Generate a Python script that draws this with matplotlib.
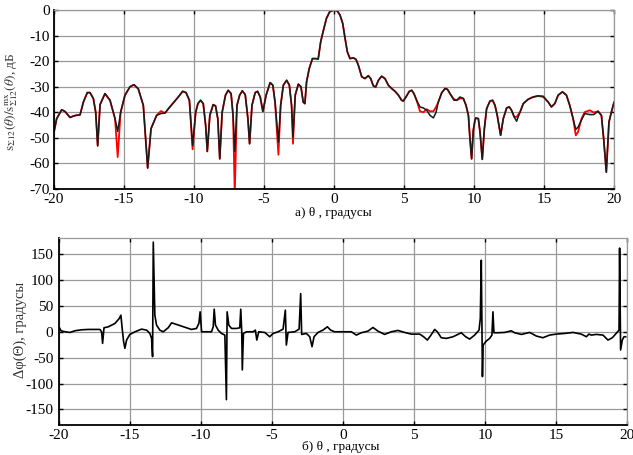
import matplotlib
matplotlib.use("Agg")
import matplotlib.pyplot as plt
import numpy as np

plt.rcParams['font.family'] = ['Liberation Serif', 'DejaVu Serif']
plt.rcParams['mathtext.fontset'] = 'stix'
plt.rcParams['axes.unicode_minus'] = False

# --- диаграмма направленности, дБ ---
theta_a = [-20.00, -19.81, -19.45, -19.21, -18.86, -18.62, -18.43, -18.14, -17.90, -17.62,
           -17.43, -17.19, -17.02, -16.88, -16.71, -16.36, -16.00, -15.64, -15.45, -15.24,
           -14.93, -14.57, -14.29, -13.98, -13.62, -13.31, -13.07, -12.67, -12.36, -12.07,
           -11.83, -11.48, -11.12, -10.81, -10.57, -10.33, -10.10, -9.88, -9.72, -9.53,
           -9.34, -9.17, -9.05, -8.87, -8.63, -8.46, -8.30, -8.16, -7.99, -7.75,
           -7.56, -7.35, -7.21, -7.09, -6.93, -6.74, -6.55, -6.34, -6.15, -6.03,
           -5.86, -5.63, -5.46, -5.27, -5.08, -4.85, -4.56, -4.37, -4.21, -3.97,
           -3.81, -3.62, -3.38, -3.19, -3.03, -2.93, -2.77, -2.55, -2.36, -2.20,
           -2.08, -1.96, -1.77, -1.54, -1.30, -1.13, -0.95, -0.78, -0.54, -0.31,
           0.00, 0.24, 0.43, 0.62, 0.79, 0.95, 1.14, 1.38, 1.57, 1.74,
           1.98, 2.21, 2.45, 2.62, 2.81, 2.98, 3.17, 3.40, 3.64, 3.88,
           4.12, 4.36, 4.60, 4.83, 4.95, 5.14, 5.38, 5.55, 5.71, 5.90,
           6.14, 6.38, 6.62, 6.86, 7.10, 7.29, 7.45, 7.69, 7.93, 8.10,
           8.33, 8.57, 8.76, 9.00, 9.24, 9.43, 9.60, 9.71, 9.83, 9.95,
           10.07, 10.14, 10.31, 10.43, 10.59, 10.74, 10.90, 11.14, 11.33, 11.50,
           11.66, 11.90, 12.09, 12.33, 12.52, 12.68, 12.87, 13.04, 13.28, 13.52,
           13.87, 14.23, 14.58, 14.94, 15.30, 15.53, 15.77, 16.01, 16.32, 16.60,
           16.84, 17.08, 17.27, 17.43, 17.67, 17.91, 18.27, 18.55, 18.86, 19.10,
           19.26, 19.45, 19.64, 19.81, 20.00]

s_black = [-47.7, -42.5, -39.0, -39.7, -42.0, -41.5, -41.2, -41.0, -36.0, -32.3,
           -32.3, -34.6, -40.0, -53.2, -37.0, -32.7, -35.3, -42.5, -47.5, -40.0,
           -33.3, -30.0, -29.2, -30.8, -37.3, -61.8, -46.4, -41.2, -40.5, -40.3,
           -38.6, -36.3, -34.0, -31.8, -32.3, -35.3, -53.0, -40.0, -36.6, -35.3,
           -36.6, -45.0, -55.3, -41.2, -37.0, -37.5, -42.5, -58.2, -40.0, -33.3,
           -31.4, -32.7, -41.2, -55.3, -37.3, -33.3, -31.6, -33.1, -42.5, -52.3,
           -37.3, -32.3, -31.8, -34.0, -39.7, -33.3, -28.4, -29.4, -36.0, -51.6,
           -37.3, -29.4, -27.5, -29.4, -37.3, -49.7, -33.3, -29.0, -30.0, -36.0,
           -36.6, -28.1, -22.9, -19.0, -19.0, -19.2, -12.4, -8.5, -3.3, -0.7,
           0.0, -0.4, -2.0, -5.2, -11.1, -16.3, -19.0, -18.7, -19.3, -21.6,
           -26.1, -26.8, -25.7, -26.8, -29.7, -30.1, -27.5, -25.9, -26.8, -29.4,
           -30.7, -31.8, -33.3, -35.3, -35.6, -34.0, -31.8, -31.4, -32.7, -35.3,
           -37.9, -38.3, -39.2, -41.2, -42.2, -40.0, -36.0, -32.4, -30.7, -31.0,
           -33.1, -35.3, -35.3, -34.0, -34.6, -37.3, -41.2, -50.3, -58.2, -47.0,
           -43.1, -42.2, -42.5, -47.7, -58.4, -46.4, -38.6, -35.6, -35.3, -37.3,
           -41.2, -49.0, -42.5, -38.3, -37.9, -39.2, -41.8, -43.5, -40.0, -36.6,
           -34.9, -34.0, -33.6, -33.7, -36.0, -37.9, -36.6, -33.3, -32.0, -33.3,
           -37.3, -42.5, -46.7, -45.8, -43.1, -40.5, -40.9, -40.9, -39.6, -41.2,
           -50.3, -63.4, -43.8, -40.0, -36.1]

s_red = [-47.7, -42.5, -39.0, -39.7, -42.0, -41.5, -41.2, -41.0, -36.0, -32.3,
         -32.3, -34.6, -40.0, -53.0, -37.0, -32.7, -35.3, -42.5, -57.5, -40.0,
         -33.3, -30.0, -29.2, -30.8, -37.3, -61.8, -46.4, -41.2, -39.5, -40.3,
         -38.6, -36.3, -34.0, -31.8, -32.3, -35.3, -54.5, -40.0, -36.6, -35.3,
         -36.6, -45.0, -55.3, -41.2, -37.0, -37.5, -42.5, -58.2, -40.0, -33.3,
         -31.4, -32.7, -41.2, -72.0, -37.3, -33.3, -31.6, -33.1, -42.5, -52.3,
         -37.3, -32.3, -31.8, -34.0, -39.7, -33.3, -28.4, -29.4, -36.0, -56.6,
         -37.3, -29.4, -27.5, -29.4, -37.3, -52.3, -33.3, -29.0, -30.0, -36.0,
         -36.6, -28.1, -22.9, -19.0, -19.0, -19.2, -12.4, -8.5, -3.3, -0.7,
         0.0, -0.4, -2.0, -5.2, -11.1, -16.3, -19.0, -18.7, -19.3, -21.6,
         -26.1, -26.8, -25.7, -26.8, -29.7, -30.1, -27.5, -25.9, -26.8, -29.4,
         -30.7, -31.8, -33.3, -35.3, -35.6, -34.0, -31.8, -31.4, -32.7, -35.3,
         -39.6, -40.0, -38.8, -39.6, -39.6, -37.9, -36.0, -32.4, -30.7, -31.0,
         -33.1, -34.9, -35.3, -34.6, -34.6, -37.3, -41.2, -50.3, -58.2, -47.0,
         -43.1, -42.2, -42.5, -47.7, -58.4, -46.4, -38.6, -35.6, -35.3, -37.3,
         -41.2, -49.0, -42.5, -38.3, -37.9, -39.2, -41.8, -41.8, -40.0, -36.6,
         -34.9, -34.0, -33.6, -34.0, -36.0, -37.9, -36.6, -33.3, -32.0, -33.3,
         -37.3, -42.5, -49.0, -47.7, -42.6, -39.9, -39.2, -40.1, -39.6, -41.2,
         -50.3, -63.4, -43.8, -40.0, -36.1]

# --- разность фаз, градусы ---
theta_b = [-20.00, -19.86, -19.58, -19.23, -18.87, -18.41, -17.94, -17.47, -17.12, -17.00,
           -16.93, -16.83, -16.53, -16.06, -15.76, -15.64, -15.55, -15.45, -15.36, -15.24,
           -15.01, -14.65, -14.19, -13.83, -13.60, -13.48, -13.41, -13.36, -13.25, -13.13,
           -12.90, -12.66, -12.31, -12.07, -11.72, -11.25, -10.67, -10.32, -10.15, -10.06,
           -9.96, -9.26, -9.14, -9.07, -8.98, -8.79, -8.56, -8.32, -8.21, -8.16,
           -8.04, -7.85, -7.50, -7.27, -7.20, -7.13, -7.09, -7.01, -6.80, -6.33,
           -6.17, -6.07, -5.93, -5.51, -5.16, -4.92, -4.57, -4.22, -4.06, -3.99,
           -3.87, -3.40, -3.09, -2.98, -2.91, -2.58, -2.34, -2.18, -2.04, -1.76,
           -1.41, -1.10, -0.87, -0.59, 0.00, 0.59, 0.94, 1.29, 1.76, 2.11,
           2.46, 2.93, 3.40, 3.87, 4.34, 4.81, 5.40, 5.68, 5.94, 6.15,
           6.46, 6.64, 6.92, 7.28, 7.75, 8.33, 8.64, 8.92, 9.27, 9.58,
           9.67, 9.74, 9.82, 9.87, 10.09, 10.33, 10.49, 10.56, 10.63, 10.92,
           11.38, 11.85, 12.09, 12.56, 13.15, 13.62, 14.08, 14.55, 15.02, 15.61,
           16.20, 16.78, 17.14, 17.32, 17.49, 17.84, 18.31, 18.66, 18.97, 19.30,
           19.44, 19.48, 19.55, 19.67, 19.79, 19.91]

dphi = [9.6, 2.0, 0.0, -1.3, 2.0, 3.8, 4.5, 4.5, 4.5, 0.0,
        -22.4, 7.7, 9.6, 16.0, 25.6, 32.0, 6.4, -19.2, -32.0, -16.0,
        -5.1, 0.0, 5.1, 3.2, -3.2, -12.8, -48.0, 173.0, 32.0, 12.8,
        3.2, 0.0, 7.7, 17.3, 14.1, 9.6, 4.5, 6.4, 16.0, 38.5,
        0.0, 0.0, 9.6, 43.6, 12.8, 3.2, -3.2, -6.4, -131.0, 38.5,
        12.8, 6.4, 6.4, 7.7, 43.6, 0.0, -73.7, -3.2, 0.0, 0.0,
        3.2, -16.0, 0.0, -1.3, -9.6, -3.2, 0.0, 5.1, 41.7, -25.6,
        -1.3, 0.0, 5.1, 73.7, -5.1, -3.2, -9.6, -28.8, -9.6, -1.3,
        3.2, 9.6, 3.2, 0.0, 0.0, 0.0, -6.4, -1.9, 1.3, 8.3,
        1.3, -5.1, 0.0, 2.6, -1.3, -4.5, -4.5, -9.6, -16.0, -8.3,
        4.5, 0.0, -11.5, -12.8, -9.6, -1.9, -9.6, -14.1, -6.4, 3.2,
        25.6, 138.0, -86.5, -25.6, -18.0, -12.8, -6.4, 38.5, -1.9, -1.9,
        -1.3, 1.9, -1.9, -5.1, -1.3, -8.3, -11.5, -6.4, -4.5, -3.2,
        -1.3, -4.5, -9.6, -4.5, -6.4, -5.1, -6.4, -16.0, -11.5, -1.3,
        3.2, 161.5, -35.3, -16.0, -9.6, -9.6]

x_ticks = [-20, -15, -10, -5, 0, 5, 10, 15, 20]


def style_axes(ax):
    ax.grid(True, color='#999999', lw=0.9)
    ax.set_axisbelow(True)
    for side in ('left', 'bottom'):
        ax.spines[side].set_color('black')
        ax.spines[side].set_linewidth(1.3)
    for side in ('top', 'right'):
        ax.spines[side].set_color('#999999')
        ax.spines[side].set_linewidth(0.9)
    ax.tick_params(direction='in', length=3, width=1, top=True, right=True,
                   labelsize=11, pad=3, colors='black')


fig = plt.figure(figsize=(6.33, 4.55), dpi=100)

ax1 = fig.add_axes([0.0853, 0.5846, 0.8847, 0.3934])
ax1.plot(theta_a, s_red, color='#ff0000', lw=1.3)
ax1.plot(theta_a, s_black, color='#1a1a1a', lw=1.1)
ax1.set_xlim(-20, 20)
ax1.set_ylim(-70, 0)
ax1.set_xticks(x_ticks)
ax1.set_yticks(np.arange(-70, 1, 10))
style_axes(ax1)
fig.text(12 / 633, 1 - 102 / 455,
         r'$\mathrm{s}_{\Sigma12}(\theta)/\mathrm{s}^{\mathrm{mx}}_{\Sigma12}(\theta)$, дБ',
         rotation=90, ha='center', va='center', fontsize=9.5, color='#333333')
fig.text(333 / 633, 1 - 213 / 455, 'а) θ , градусы',
         ha='center', va='center', fontsize=9.5)

ax2 = fig.add_axes([0.0932, 0.0659, 0.8973, 0.411])
ax2.plot(theta_b, dphi, color='black', lw=1.2)
ax2.set_xlim(-20, 20)
ax2.set_ylim(-180, 181)
ax2.set_xticks(x_ticks)
ax2.set_yticks([-150, -100, -50, 0, 50, 100, 150])
style_axes(ax2)
ax2.tick_params(axis='y', pad=4)
fig.text(20 / 633, 1 - 330 / 455, 'Δφ(Θ), градусы',
         rotation=90, ha='center', va='center', fontsize=10.5, color='#333333')
fig.text(341 / 633, 1 - 447 / 455, 'б) θ , градусы',
         ha='center', va='center', fontsize=9.5)

fig.savefig('out.png', dpi=100)
